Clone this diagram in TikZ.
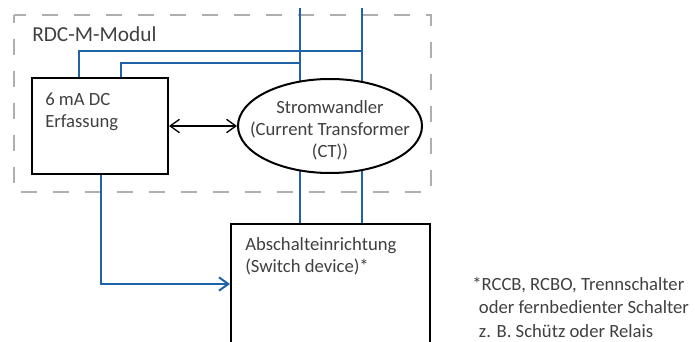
\documentclass[tikz,border=0pt]{standalone}
\usepackage{fontspec}
\setmainfont{Carlito}
\usetikzlibrary{arrows.meta}
\usetikzlibrary{shapes.geometric}
\definecolor{leitung}{RGB}{31,98,168}
\definecolor{rahmengrau}{RGB}{175,175,175}
\definecolor{schrift}{RGB}{64,64,64}

\tikzset{
  kasten/.style={draw=black, line width=1.5pt, fill=white, inner sep=0pt},
  wire/.style={draw=leitung, line width=1.5pt},
  pfeil/.style={-{Straight Barb[length=7pt,width=10pt]}},
  doppelpfeil/.style={{Straight Barb[length=7pt,width=10pt]}-{Straight Barb[length=7pt,width=10pt]}},
  beschriftung/.style={text=schrift, inner sep=0.75pt, align=left, font=\fontsize{14}{16.5}\selectfont}
}

\begin{document}
\begin{tikzpicture}[x=0.75pt,y=0.75pt,yscale=-1,xscale=1]
\useasboundingbox (0,0) rectangle (695,342);
\clip (0,0) rectangle (695,342);

%Shape: Rectangle [RDC-M-Modul, dashed]
\draw [rahmengrau, line width=1.5pt, dash pattern=on 12pt off 12pt, dash phase=6pt] (14,15) rectangle (431,192);

%Shape: Rectangle [Erfassung]
\node [kasten, minimum width=102pt, minimum height=72pt] (erf) at (100,126) {};
%Shape: Rectangle [Abschalteinrichtung]
\node [kasten, minimum width=149.25pt, minimum height=102pt] (swb) at (330.5,292) {};
%Coordinates: Netzleiter
\coordinate (netzA) at (300,8);
\coordinate (netzB) at (362,8);

%Straight Lines [Leiter]
\draw [wire] (netzA) -- (netzA |- swb.north);
\draw [wire] (netzB) -- (netzB |- swb.north);
%Straight Lines [Messleitungen]
\draw [wire] (netzB |- 0,51) -| (79,0 |- erf.north);
\draw [wire] (netzA |- 0,63) -| (121,0 |- erf.north);
%Straight Lines [Ausloesung]
\draw [wire, pfeil] (101,0 |- erf.south) |- (swb.west |- 0,284);

%Shape: Ellipse [Stromwandler]
\node [kasten, ellipse, minimum width=138pt, minimum height=70.5pt] (ct) at (330,126) {};
%Straight Lines [Erfassung <-> Stromwandler]
\draw [line width=1pt, doppelpfeil] (erf) -- (ct);

% Text Node
\node [beschriftung, anchor=north west, font=\fontsize{16}{19}\selectfont] (titel) at (31,25) {RDC-M-Modul};
% Text Node
\node [beschriftung, anchor=north west] (erftext) at (44,92) {6 mA DC\\Erfassung};
% Text Node
\node [beschriftung, align=center] (cttext) at (330,130) {Stromwandler\\(Current Transformer\\(CT))};
% Text Node
\node [beschriftung, anchor=north west] (swbtext) at (244,236) {Abschalteinrichtung\\(Switch device)*};
% Text Node
\node [beschriftung, anchor=north west, font=\fontsize{14}{17.5}\selectfont] (fussnote) at (471,276) {*RCCB, RCBO, Trennschalter\\\hspace*{5pt}oder fernbedienter Schalter\\\hspace*{5pt}z. B. Schütz oder Relais};
\end{tikzpicture}
\end{document}
